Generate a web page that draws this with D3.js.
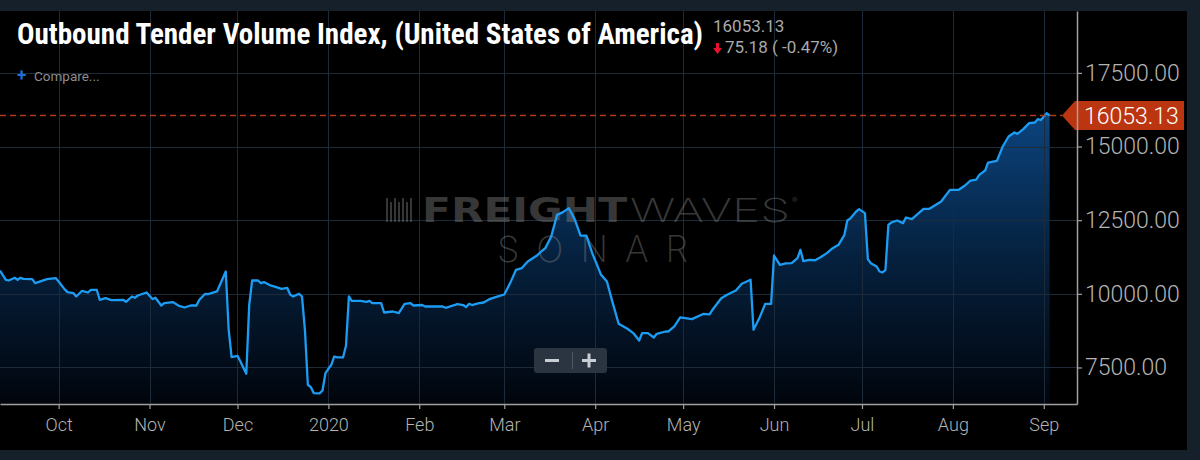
<!DOCTYPE html>
<html>
<head>
<meta charset="utf-8">
<script src="https://cdn.jsdelivr.net/npm/d3@7"></script>
<style>
  html, body { margin: 0; padding: 0; background: #16202b; }
  svg { display: block; }
</style>
</head>
<body>
<script>
// outbound tender volume index readings
var dates = [
  "2019-09-11","2019-09-13","2019-09-14","2019-09-16","2019-09-17","2019-09-18","2019-09-19","2019-09-22",
  "2019-09-23","2019-09-25","2019-09-27","2019-09-30","2019-10-01","2019-10-03","2019-10-04","2019-10-06",
  "2019-10-07","2019-10-09","2019-10-11","2019-10-12","2019-10-14","2019-10-15","2019-10-17","2019-10-19",
  "2019-10-23","2019-10-24","2019-10-26","2019-10-27","2019-10-28","2019-10-31","2019-11-02","2019-11-03",
  "2019-11-05","2019-11-06","2019-11-09","2019-11-11","2019-11-13","2019-11-15","2019-11-17","2019-11-18",
  "2019-11-20","2019-11-21","2019-11-24","2019-11-27","2019-11-28","2019-11-29","2019-12-01","2019-12-02",
  "2019-12-04","2019-12-05","2019-12-06","2019-12-08","2019-12-09","2019-12-10","2019-12-12","2019-12-14",
  "2019-12-16","2019-12-18","2019-12-19","2019-12-20","2019-12-22","2019-12-23","2019-12-24","2019-12-25",
  "2019-12-26","2019-12-27","2019-12-29","2019-12-30","2019-12-31","2020-01-02","2020-01-03","2020-01-04",
  "2020-01-06","2020-01-07","2020-01-08","2020-01-09","2020-01-12","2020-01-14","2020-01-15","2020-01-16",
  "2020-01-19","2020-01-20","2020-01-23","2020-01-25","2020-01-27","2020-01-29","2020-01-30","2020-02-02",
  "2020-02-03","2020-02-06","2020-02-09","2020-02-10","2020-02-14","2020-02-16","2020-02-17","2020-02-18",
  "2020-02-19","2020-02-21","2020-02-23","2020-02-25","2020-02-27","2020-03-01","2020-03-03","2020-03-05",
  "2020-03-07","2020-03-09","2020-03-12","2020-03-14","2020-03-15","2020-03-17","2020-03-19","2020-03-21",
  "2020-03-23","2020-03-25","2020-03-27","2020-03-29","2020-03-31","2020-04-03","2020-04-05","2020-04-07",
  "2020-04-09","2020-04-12","2020-04-14","2020-04-16","2020-04-17","2020-04-19","2020-04-21","2020-04-22",
  "2020-04-25","2020-04-26","2020-04-28","2020-04-30","2020-05-04","2020-05-08","2020-05-10","2020-05-11",
  "2020-05-14","2020-05-16","2020-05-19","2020-05-21","2020-05-24","2020-05-25","2020-05-27","2020-05-29",
  "2020-05-31","2020-06-01","2020-06-03","2020-06-05","2020-06-07","2020-06-09","2020-06-10","2020-06-11",
  "2020-06-13","2020-06-15","2020-06-17","2020-06-19","2020-06-21","2020-06-23","2020-06-25","2020-06-26",
  "2020-06-27","2020-06-29","2020-06-30","2020-07-02","2020-07-03","2020-07-04","2020-07-06","2020-07-07",
  "2020-07-08","2020-07-09","2020-07-10","2020-07-11","2020-07-13","2020-07-15","2020-07-16","2020-07-18",
  "2020-07-22","2020-07-24","2020-07-28","2020-07-31","2020-08-03","2020-08-05","2020-08-07","2020-08-09",
  "2020-08-10","2020-08-12","2020-08-13","2020-08-16","2020-08-18","2020-08-20","2020-08-22","2020-08-23",
  "2020-08-25","2020-08-27","2020-08-29","2020-08-30","2020-08-31","2020-09-02","2020-09-03"
];
var values = [
  10790,10476,10452,10544,10476,10544,10510,10500,
  10364,10432,10500,10534,10420,10160,10057,10025,
  9909,10103,10045,10137,10137,9797,9855,9787,
  9797,9729,9909,9865,9943,10045,9821,9865,
  9604,9685,9718,9594,9536,9604,9604,9797,
  10001,9990,10080,10757,8779,7853,7897,7704,
  7286,9628,10452,10452,10364,10398,10296,10238,
  10170,10200,9967,9909,10001,9909,8779,6913,
  6835,6631,6620,6720,7310,7592,7873,7840,
  7840,8236,9909,9763,9763,9729,9763,9685,
  9685,9366,9400,9345,9661,9685,9604,9620,
  9570,9570,9570,9525,9650,9620,9550,9661,
  9620,9672,9705,9821,9889,9977,10364,10815,
  10873,11097,11290,11470,11551,11945,12681,12773,
  12909,12535,11972,11972,11382,10645,10418,9685,
  8983,8813,8667,8416,8667,8667,8518,8643,
  8721,8721,8891,9197,9142,9322,9300,9458,
  9850,9967,10113,10340,10476,8779,9176,9661,
  9661,11300,10985,11030,11041,11212,11494,11110,
  11150,11140,11250,11382,11551,11664,12003,12488,
  12556,12794,12875,12739,11178,11041,10927,10757,
  10723,10815,12342,12420,12488,12400,12590,12535,
  12886,12886,13133,13530,13530,13666,13846,13880,
  14039,14185,14457,14514,15000,15340,15475,15430,
  15590,15793,15815,15930,15900,16128.31,16053.13
];
var yTicks = [7500, 10000, 12500, 15000, 17500];
var lastValue = 16053.13;
var changeText = "75.18 ( -0.47%)";
var title = "Outbound Tender Volume Index, (United States of America)";

var w = 1200;
var h = 460;
var plot = { left: 0, top: 11, right: 1077, bottom: 404 };

var svg = d3.select("body").append("svg")
  .attr("width", w)
  .attr("height", h);

// navy frame with the black chart body inside
svg.append("rect").attr("width", w).attr("height", h).attr("fill", "#16202b");
svg.append("rect")
  .attr("x", 0).attr("y", 11)
  .attr("width", 1187).attr("height", 439)
  .attr("fill", "#000");

var parse = d3.timeParse("%Y-%m-%d");
var data = dates.map(function(d, i) { return { date: parse(d), value: values[i] }; });

var x = d3.scaleTime()
  .domain([new Date(2019, 8, 11), new Date(2020, 8, 12, 8)])
  .range([plot.left, plot.right]);
var y = d3.scaleLinear()
  .domain([6260, 19600])
  .range([plot.bottom, plot.top]);

var defs = svg.append("defs");
var grad = defs.append("linearGradient")
  .attr("id", "fillGrad")
  .attr("gradientUnits", "userSpaceOnUse")
  .attr("x1", 0).attr("y1", y(lastValue))
  .attr("x2", 0).attr("y2", plot.bottom);
grad.append("stop").attr("offset", 0).attr("stop-color", "#0b437d");
grad.append("stop").attr("offset", 0.5).attr("stop-color", "#05203d");
grad.append("stop").attr("offset", 1).attr("stop-color", "#01050c");

defs.append("clipPath").attr("id", "plotClip")
  .append("rect")
  .attr("x", plot.left).attr("y", plot.top)
  .attr("width", plot.right - plot.left).attr("height", plot.bottom - plot.top);

var months = x.ticks(d3.timeMonth.every(1));

// area under the line
var area = d3.area()
  .x(function(d) { return x(d.date); })
  .y0(plot.bottom)
  .y1(function(d) { return y(d.value); });

svg.append("path")
  .datum(data)
  .attr("clip-path", "url(#plotClip)")
  .attr("d", area)
  .attr("fill", "url(#fillGrad)");

// grid
var grid = svg.append("g").attr("stroke", "#1d2a39").attr("stroke-width", 1);
grid.selectAll("line.v")
  .data(months)
  .enter()
  .append("line")
  .attr("class", "v")
  .attr("x1", function(d) { return Math.round(x(d)) + 0.5; })
  .attr("x2", function(d) { return Math.round(x(d)) + 0.5; })
  .attr("y1", plot.top)
  .attr("y2", plot.bottom);
grid.selectAll("line.h")
  .data(yTicks)
  .enter()
  .append("line")
  .attr("class", "h")
  .attr("x1", plot.left)
  .attr("x2", plot.right)
  .attr("y1", function(d) { return Math.round(y(d)) + 0.5; })
  .attr("y2", function(d) { return Math.round(y(d)) + 0.5; });

// watermark
var wm = svg.append("g").attr("fill", "#7a7a7a").attr("opacity", 0.45);
var bars = [0, 4, 8, 12, 16, 20, 24];
wm.selectAll("rect")
  .data(bars)
  .enter()
  .append("rect")
  .attr("x", function(d) { return 386 + d; })
  .attr("y", function(d, i) { return i % 2 ? 202 : 198; })
  .attr("width", 2)
  .attr("height", function(d, i) { return i % 2 ? 20 : 24; });
wm.append("text")
  .attr("x", 422).attr("y", 222)
  .attr("font-family", "'DejaVu Sans', sans-serif")
  .attr("font-weight", "bold")
  .attr("font-size", 33)
  .attr("textLength", 205)
  .attr("lengthAdjust", "spacingAndGlyphs")
  .text("FREIGHT");
wm.append("text")
  .attr("x", 630).attr("y", 222)
  .attr("font-family", "Inter, Roboto, sans-serif")
  .attr("font-weight", 200)
  .attr("font-size", 33)
  .attr("textLength", 160)
  .attr("lengthAdjust", "spacingAndGlyphs")
  .text("WAVES");
wm.append("text")
  .attr("x", 792).attr("y", 203)
  .attr("font-family", "Inter, Roboto, sans-serif")
  .attr("font-size", 8)
  .text("®");
wm.append("text")
  .attr("x", 497).attr("y", 262)
  .attr("font-family", "Inter, Roboto, sans-serif")
  .attr("font-weight", 200)
  .attr("font-size", 36)
  .attr("textLength", 191)
  .attr("lengthAdjust", "spacing")
  .text("SONAR");

// the index line
var line = d3.line()
  .x(function(d) { return x(d.date); })
  .y(function(d) { return y(d.value); });

svg.append("path")
  .datum(data)
  .attr("clip-path", "url(#plotClip)")
  .attr("d", line)
  .attr("fill", "none")
  .attr("stroke", "#1c9cf2")
  .attr("stroke-width", 2.3)
  .attr("stroke-linejoin", "round");

// last value marker
var ly = y(lastValue);
svg.append("line")
  .attr("x1", plot.left).attr("x2", 1062)
  .attr("y1", ly).attr("y2", ly)
  .attr("stroke", "#b3391c")
  .attr("stroke-width", 1.4)
  .attr("stroke-dasharray", "6,4");
svg.append("path")
  .attr("d", "M1062," + ly + "L1075," + (ly - 14.5) + "H1184V" + (ly + 14.5) + "H1075Z")
  .attr("fill", "#bb3610");
svg.append("text")
  .attr("x", 1084).attr("y", ly + 8.5)
  .attr("font-family", "Roboto, sans-serif")
  .attr("font-weight", 300)
  .attr("font-size", 23)
  .attr("fill", "#fff")
  .text(d3.format(".2f")(lastValue));

// axes
var fmtMonth = function(d) { return d.getMonth() === 0 ? d3.timeFormat("%Y")(d) : d3.timeFormat("%b")(d); };

var xAxis = svg.append("g")
  .attr("transform", "translate(0," + plot.bottom + ")")
  .call(d3.axisBottom(x).ticks(d3.timeMonth.every(1)).tickFormat(fmtMonth).tickSize(5).tickSizeOuter(0).tickPadding(9));

var yAxis = svg.append("g")
  .attr("transform", "translate(" + plot.right + ",0)")
  .call(d3.axisRight(y).tickValues(yTicks).tickFormat(d3.format(".2f")).tickSize(5).tickSizeOuter(0).tickPadding(3));

[xAxis, yAxis].forEach(function(ax) {
  ax.select(".domain").attr("stroke", "#a0a0a0").attr("stroke-width", 1.5);
  ax.selectAll(".tick line").attr("stroke", "#a0a0a0").attr("stroke-width", 1.2);
  ax.selectAll(".tick text").attr("fill", "#b4b4b4").attr("font-family", "Roboto, sans-serif").attr("font-weight", 300);
});
xAxis.selectAll(".tick text").attr("font-size", 18);
yAxis.selectAll(".tick text").attr("font-size", 23);

// header
svg.append("text")
  .attr("x", 17).attr("y", 44)
  .attr("font-family", "'Roboto Condensed', 'Liberation Sans Narrow', 'DejaVu Sans Condensed', Roboto, sans-serif")
  .attr("font-stretch", "condensed")
  .attr("font-weight", "bold")
  .attr("font-size", 29)
  .attr("textLength", 686)
  .attr("lengthAdjust", "spacingAndGlyphs")
  .attr("fill", "#fff")
  .text(title);
svg.append("text")
  .attr("x", 713).attr("y", 32)
  .attr("font-family", "Roboto, sans-serif")
  .attr("font-size", 17)
  .attr("fill", "#a9a9a9")
  .text(d3.format(".2f")(lastValue));
svg.append("path")
  .attr("d", "M716,43h3v5h3l-4.5,6l-4.5,-6h3z")
  .attr("fill", "#e8112d");
svg.append("text")
  .attr("x", 725).attr("y", 53)
  .attr("font-family", "Roboto, sans-serif")
  .attr("font-size", 17)
  .attr("fill", "#a9a9a9")
  .text(changeText);

svg.append("text")
  .attr("x", 17).attr("y", 81)
  .attr("font-family", "Roboto, sans-serif")
  .attr("font-weight", "bold")
  .attr("font-size", 17)
  .attr("fill", "#1f6fd8")
  .text("+");
svg.append("text")
  .attr("x", 34).attr("y", 81)
  .attr("font-family", "Roboto, sans-serif")
  .attr("font-size", 13.5)
  .attr("fill", "#8c8c8c")
  .text("Compare...");

// zoom buttons
var zb = svg.append("g");
zb.append("rect")
  .attr("x", 534).attr("y", 348)
  .attr("width", 73).attr("height", 25)
  .attr("rx", 3)
  .attr("fill", "#2a3541");
zb.append("line")
  .attr("x1", 572.5).attr("x2", 572.5).attr("y1", 352).attr("y2", 369)
  .attr("stroke", "#4c5866");
zb.append("path")
  .attr("d", "M545,360.5h14M582,360.5h14M589,353.5v14")
  .attr("stroke", "#c9ced4")
  .attr("stroke-width", 3);
</script>
</body>
</html>
